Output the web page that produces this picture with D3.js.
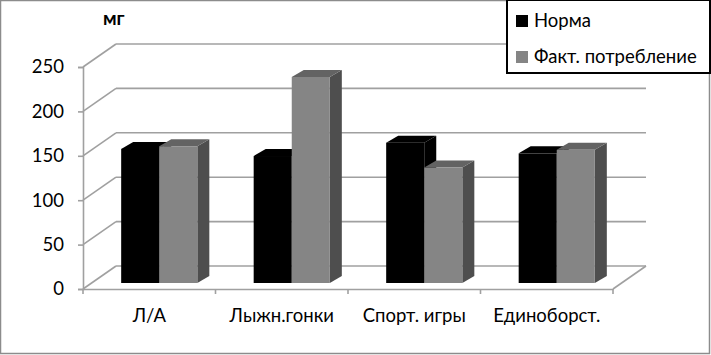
<!DOCTYPE html>
<html><head><meta charset="utf-8">
<script src="https://cdn.jsdelivr.net/npm/d3@7"></script>
<style>body{margin:0;background:#fff}svg{display:block}text{font-family:Lato,"Open Sans",sans-serif}</style>
</head><body>
<svg id="c" width="711" height="355"></svg>
<script>
const categories = ["Л/А", "Лыжн.гонки", "Спорт. игры", "Единоборст."];
const seriesNames = ["Норма", "Факт. потребление"];
const normaValues = [151, 143, 158, 146];
const faktValues = [154, 232, 130, 150];
const yTicks = [0, 50, 100, 150, 200, 250];
const unitLabel = "мг";

const series = [
  {name: seriesNames[0], values: normaValues, front: "#000000", top: "#000000", side: "#000000"},
  {name: seriesNames[1], values: faktValues, front: "#858585", top: "#636363", side: "#4e4e4e"}
];

const svg = d3.select("#c");
const W = 711, H = 355;
const FS = 18.5;
svg.append("rect").attr("x",0.5).attr("y",0.5).attr("width",W-2).attr("height",H-2)
  .attr("fill","#fff").attr("stroke","#8c8c8c").attr("stroke-width",1.5);

const x0 = 83, x1 = 613;
const x = d3.scaleBand().domain(categories).range([x0, x1]);
const y = d3.scaleLinear().domain([0, 250]).range([289, 67]);
const wall = {dx: 33, dy: -23};
const barOff = {dx: 10, dy: -6};
const barD = {dx: 12, dy: -7};
const gridColor = "#a0a0a0";

const g = svg.append("g");
yTicks.forEach(t => {
  const yy = y(t);
  g.append("line").attr("x1", x0 + wall.dx).attr("x2", x1 + wall.dx)
    .attr("y1", yy + wall.dy).attr("y2", yy + wall.dy)
    .attr("stroke", gridColor).attr("stroke-width", 1.6);
  g.append("line").attr("x1", x0).attr("y1", yy).attr("x2", x0 + wall.dx).attr("y2", yy + wall.dy)
    .attr("stroke", gridColor).attr("stroke-width", 1.6);
});
g.append("line").attr("x1", x1).attr("y1", y(0)).attr("x2", x1 + wall.dx).attr("y2", y(0) + wall.dy)
  .attr("stroke", gridColor).attr("stroke-width", 1.6);

const yAxis = d3.axisLeft(y).tickValues(yTicks).tickSize(5).tickPadding(14);
const ya = svg.append("g").attr("transform", `translate(${x0},0)`).call(yAxis);
ya.select(".domain").attr("stroke", gridColor).attr("stroke-width", 1.6);
ya.selectAll(".tick line").attr("stroke", gridColor).attr("stroke-width", 1.6);
ya.selectAll(".tick text").attr("font-size", FS).attr("fill", "#000")
  .style("font-family", "Lato, 'Open Sans', sans-serif");

const xAxis = d3.axisBottom(x).tickSize(0).tickPadding(20);
const xa = svg.append("g").attr("transform", `translate(0,${y(0)})`).call(xAxis);
xa.select(".domain").attr("stroke", gridColor).attr("stroke-width", 1.6);
xa.selectAll(".tick text").attr("font-size", FS).attr("fill", "#000")
  .style("font-family", "Lato, 'Open Sans', sans-serif");
const bounds = categories.map(c => x(c)).concat([x1]);
svg.selectAll("line.ct").data(bounds).enter().append("line").attr("class","ct")
  .attr("x1", d => d).attr("x2", d => d).attr("y1", y(0)).attr("y2", y(0) + 5)
  .attr("stroke", gridColor).attr("stroke-width", 1.6);

const xs = d3.scaleBand().domain(seriesNames).range([0, x.bandwidth()]).paddingInner(0).paddingOuter(0.74);
const bars = svg.append("g");
categories.forEach((c, i) => {
  series.forEach(s => {
    const v = s.values[i];
    const bx = x(c) + xs(s.name) + barOff.dx;
    const bw = xs.bandwidth();
    const by0 = y(0) + barOff.dy;
    const byT = y(v) + barOff.dy;
    bars.append("polygon").attr("points", [
      [bx + bw, by0], [bx + bw + barD.dx, by0 + barD.dy],
      [bx + bw + barD.dx, byT + barD.dy], [bx + bw, byT]].map(p => p.join(",")).join(" "))
      .attr("fill", s.side);
    bars.append("polygon").attr("points", [
      [bx, byT], [bx + barD.dx, byT + barD.dy],
      [bx + bw + barD.dx, byT + barD.dy], [bx + bw, byT]].map(p => p.join(",")).join(" "))
      .attr("fill", s.top);
    bars.append("rect").attr("x", bx).attr("y", byT).attr("width", bw).attr("height", by0 - byT)
      .attr("fill", s.front);
  });
});

svg.append("text").attr("x", 103).attr("y", 25).attr("font-size", 19).attr("font-weight", "bold")
  .text(unitLabel);

const lg = svg.append("g");
lg.append("rect").attr("x", 507).attr("y", 0).attr("width", 203).attr("height", 73)
  .attr("fill", "#fff").attr("stroke", "#000").attr("stroke-width", 2);
series.forEach((s, i) => {
  const ly = 21 + i * 36;
  lg.append("rect").attr("x", 516).attr("y", ly - 6).attr("width", 12).attr("height", 12).attr("fill", s.front);
  lg.append("text").attr("x", 534).attr("y", ly + 6).attr("font-size", FS).text(s.name);
});
</script>
</body></html>
